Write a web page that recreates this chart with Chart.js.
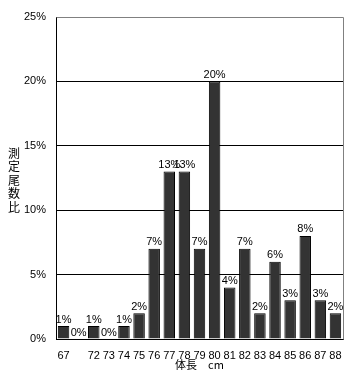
<!DOCTYPE html>
<html>
<head>
<meta charset="utf-8">
<script src="https://cdn.jsdelivr.net/npm/chart.js@4/dist/chart.umd.min.js"></script>
<style>
html,body{margin:0;padding:0;background:#fff;}
#wrap{width:356px;height:380px;position:relative;}
</style>
</head>
<body>
<div id="wrap"><canvas id="c" width="356" height="380"></canvas></div>
<script>
const categories = ['67', '', '72', '73', '74', '75', '76', '77', '78', '79', '80', '81', '82', '83', '84', '85', '86', '87', '88'];
const values = [1, 0, 1, 0, 1, 2, 7, 13, 13, 7, 20, 4, 7, 2, 6, 3, 8, 3, 2];
const yTickValues = [0, 5, 10, 15, 20, 25];
const yTitle = '測定尾数比';
const xTitle = '体長　cm';

const FONT = "'Liberation Sans Narrow', 'Liberation Sans', Arial, sans-serif";
const CJK = "'Noto Sans CJK JP', 'Noto Sans CJK SC', sans-serif";

const labelPlugin = {
  id: 'labels',
  afterDatasetsDraw(chart) {
    const ctx = chart.ctx;
    const meta = chart.getDatasetMeta(0);
    ctx.save();
    ctx.font = '11px ' + FONT;
    ctx.fillStyle = '#000';
    ctx.textAlign = 'center';
    ctx.textBaseline = 'bottom';
    meta.data.forEach((bar, i) => {
      ctx.fillText(values[i] + '%', bar.x, bar.y - 1);
    });
    ctx.restore();
  },
  afterDraw(chart) {
    const ctx = chart.ctx;
    const a = chart.chartArea;
    ctx.save();
    ctx.strokeStyle = '#808080';
    ctx.lineWidth = 1;
    ctx.beginPath();
    ctx.moveTo(Math.round(a.left) + 0.5, Math.round(a.top) + 0.5);
    ctx.lineTo(Math.round(a.right) + 0.5, Math.round(a.top) + 0.5);
    ctx.lineTo(Math.round(a.right) + 0.5, Math.round(a.bottom) + 0.5);
    ctx.stroke();
    // vertical stacked y title
    ctx.fillStyle = '#000';
    ctx.font = '12px ' + CJK;
    ctx.textAlign = 'center';
    ctx.textBaseline = 'middle';
    const chars = Array.from(yTitle);
    const pitch = 13.5;
    const cy = (a.top + a.bottom) / 2 + 2;
    const y0 = cy - pitch * (chars.length - 1) / 2;
    chars.forEach((ch, i) => ctx.fillText(ch, 14, y0 + i * pitch));
    ctx.restore();
  }
};

new Chart(document.getElementById('c'), {
  type: 'bar',
  data: {
    labels: categories,
    datasets: [{
      data: values,
      backgroundColor: '#333333',
      borderColor: '#000000',
      borderWidth: 1,
      barPercentage: 0.76,
      categoryPercentage: 1.0
    }]
  },
  options: {
    responsive: false,
    animation: false,
    devicePixelRatio: 1,
    layout: { padding: { left: 0, right: 13, top: 17, bottom: 0 } },
    plugins: { legend: { display: false }, tooltip: { enabled: false } },
    scales: {
      x: {
        grid: { display: false },
        border: { display: true, color: '#000', width: 1 },
        ticks: {
          color: '#000',
          font: { family: FONT, size: 11 },
          padding: 2,
          maxRotation: 0,
          autoSkip: false
        },
        title: {
          display: true,
          text: xTitle,
          color: '#000',
          font: { family: CJK, size: 11 },
          padding: { top: 0, bottom: 9 }
        },
        afterFit(s) { s.height = 41; }
      },
      y: {
        min: 0,
        max: 25,
        afterBuildTicks(s) { s.ticks = yTickValues.map(v => ({ value: v })); },
        grid: {
          color: ctx => (ctx.tick && ctx.tick.value === 25) ? '#808080' : '#000',
          drawTicks: false,
          lineWidth: 1
        },
        border: { display: true, color: '#000', width: 1 },
        ticks: {
          color: '#000',
          font: { family: FONT, size: 11 },
          padding: 10,
          callback: v => v + '%'
        },
        afterFit(s) { s.width = 56; }
      }
    }
  },
  plugins: [labelPlugin]
});
</script>
</body>
</html>
